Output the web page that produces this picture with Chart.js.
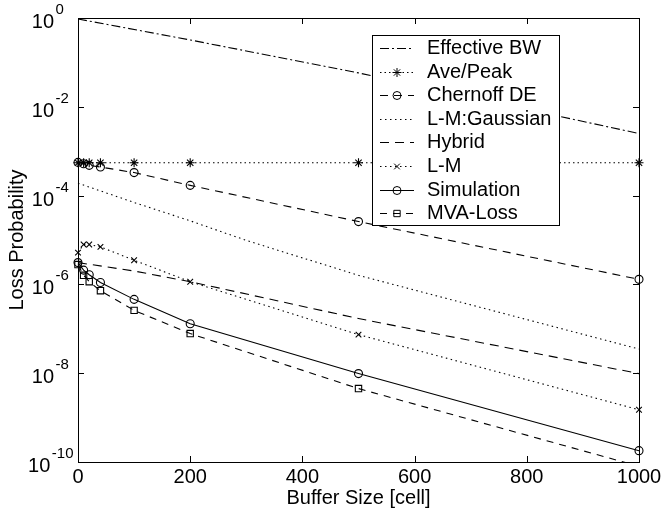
<!DOCTYPE html>
<html>
<head>
<meta charset="utf-8">
<script src="https://cdn.jsdelivr.net/npm/chart.js@4.4.0/dist/chart.umd.min.js"></script>
<style>
  body { margin: 0; background: #fff; }
  #wrap { width: 661px; height: 508px; }
</style>
</head>
<body>
<div id="wrap"><canvas id="lossChart" width="661" height="508"></canvas></div>
<script>
// ---- data ----
const bufferSizes = [0, 10, 20, 40, 100, 200, 500, 1000];
const effBwSizes = [0, 200, 500, 1000];
const effectiveBW = [0.95, 0.32, 0.058, 2.5e-3];
const avePeak = [5.5e-4, 5.5e-4, 5.5e-4, 5.5e-4, 5.5e-4, 5.5e-4, 5.5e-4, 5.5e-4];
const chernoffDE = [5.6e-4, 5.2e-4, 4.8e-4, 4.4e-4, 3.3e-4, 1.7e-4, 2.6e-5, 1.3e-6];
const gaussSizes = [0, 100, 200, 300, 500, 1000];
const lmGaussian = [1.9e-4, 7e-5, 2.7e-5, 9.8e-6, 1.6e-6, 3.5e-8];
const hybridSizes = [0, 100, 200, 500, 1000];
const hybrid = [3.1e-6, 2.0e-6, 1.15e-6, 1.7e-7, 9.8e-9];
const lm = [5.2e-6, 7.9e-6, 7.9e-6, 7e-6, 3.5e-6, 1.15e-6, 7.4e-8, 1.5e-9];
const simulation = [3.1e-6, 2.1e-6, 1.65e-6, 1.1e-6, 4.6e-7, 1.3e-7, 9.8e-9, 1.8e-10];
const mvaLoss = [2.8e-6, 1.6e-6, 1.15e-6, 7.2e-7, 2.6e-7, 7.8e-8, 4.5e-9, 8e-11];

const xTicks = [0, 200, 400, 600, 800, 1000];
const yExponents = [0, -2, -4, -6, -8, -10];

Chart.defaults.font.family = "'Liberation Sans', Arial, sans-serif";
Chart.defaults.color = '#000';

function pts(xs, ys) {
  return xs.map((x, i) => ({ x: x, y: ys[i] }));
}

// line style for each curve (all black)
function curve(label, data, dash, style, radius) {
  return {
    label: label,
    data: data,
    borderColor: '#000',
    borderWidth: 1.1,
    borderDash: dash,
    backgroundColor: 'rgba(0,0,0,0)',
    pointStyle: style || 'circle',
    pointRadius: style ? radius : 0,
    pointBorderColor: '#000',
    pointBorderWidth: 1.1,
    pointBackgroundColor: 'rgba(0,0,0,0)',
    tension: 0,
    clip: { left: 6, right: 6, top: 0, bottom: 0 }
  };
}

const datasets = [
  curve('Effective BW', pts(effBwSizes, effectiveBW), [9, 3, 2, 3], null, 0),
  curve('Ave/Peak', pts(bufferSizes, avePeak), [1.5, 3], 'star', 4.5),
  curve('Chernoff DE', pts(bufferSizes, chernoffDE), [8, 6], 'circle', 4),
  curve('L-M:Gaussian', pts(gaussSizes, lmGaussian), [1.5, 3.5], null, 0),
  curve('Hybrid', pts(hybridSizes, hybrid), [9, 6], null, 0),
  curve('L-M', pts(bufferSizes, lm), [1.5, 3.5], 'crossRot', 4),
  curve('Simulation', pts(bufferSizes, simulation), [], 'circle', 4),
  curve('MVA-Loss', pts(bufferSizes, mvaLoss), [7, 6], 'rect', 4.5)
];

function drawMarker(ctx, ds, x, y) {
  if (!ds.pointRadius) return;
  if (Chart.helpers && Chart.helpers.drawPoint) {
    Chart.helpers.drawPoint(ctx, { pointStyle: ds.pointStyle, radius: ds.pointRadius, rotation: 0, borderWidth: 1 }, x, y);
    return;
  }
  ctx.beginPath();
  ctx.arc(x, y, ds.pointRadius, 0, Math.PI * 2);
  ctx.stroke();
}

// frame, inward ticks and 10^n labels
const framePlugin = {
  id: 'frame',
  afterDraw(chart) {
    const { ctx, chartArea: a, scales: { x, y } } = chart;
    ctx.save();
    ctx.strokeStyle = '#000';
    ctx.lineWidth = 1;
    ctx.setLineDash([]);
    ctx.strokeRect(Math.round(a.left) + 0.5, Math.round(a.top) + 0.5, Math.round(a.right - a.left), Math.round(a.bottom - a.top));
    ctx.beginPath();
    xTicks.forEach(v => {
      const px = Math.round(x.getPixelForValue(v)) + 0.5;
      ctx.moveTo(px, a.bottom); ctx.lineTo(px, a.bottom - 6);
      ctx.moveTo(px, a.top); ctx.lineTo(px, a.top + 6);
    });
    yExponents.forEach(e => {
      const py = Math.round(y.getPixelForValue(Math.pow(10, e))) + 0.5;
      ctx.moveTo(a.left, py); ctx.lineTo(a.left + 6, py);
      ctx.moveTo(a.right, py); ctx.lineTo(a.right - 6, py);
    });
    ctx.stroke();

    ctx.fillStyle = '#000';
    ctx.textBaseline = 'alphabetic';
    yExponents.forEach(e => {
      const py = y.getPixelForValue(Math.pow(10, e));
      const exp = String(e);
      ctx.font = "15px 'Liberation Sans', Arial, sans-serif";
      const expW = ctx.measureText(exp).width;
      const baseRight = Math.min(a.left - 24, a.left - 6 - expW);
      ctx.textAlign = 'left';
      ctx.fillText(exp, baseRight + 1.5, py - 4);
      ctx.font = "20px 'Liberation Sans', Arial, sans-serif";
      ctx.textAlign = 'right';
      ctx.fillText('10', baseRight, py + 10);
    });
    ctx.restore();
  }
};

// boxed legend in the upper right of the plot
const legendPlugin = {
  id: 'boxLegend',
  afterDraw(chart) {
    const { ctx, chartArea: a } = chart;
    const boxL = a.right - 267, boxT = a.top + 17, boxW = 187, boxH = 190;
    const rowH = 23.6;
    ctx.save();
    ctx.fillStyle = '#fff';
    ctx.fillRect(boxL, boxT, boxW, boxH);
    ctx.strokeStyle = '#000';
    ctx.lineWidth = 1;
    ctx.setLineDash([]);
    ctx.strokeRect(Math.round(boxL) + 0.5, Math.round(boxT) + 0.5, boxW, boxH);
    ctx.font = "20px 'Liberation Sans', Arial, sans-serif";
    ctx.textBaseline = 'middle';
    ctx.textAlign = 'left';
    chart.data.datasets.forEach((ds, i) => {
      const ry = Math.round(boxT + 13 + i * rowH) + 0.5;
      ctx.setLineDash(ds.borderDash);
      ctx.beginPath();
      ctx.moveTo(boxL + 8, ry);
      ctx.lineTo(boxL + 42, ry);
      ctx.stroke();
      ctx.setLineDash([]);
      ctx.fillStyle = 'rgba(0,0,0,0)';
      drawMarker(ctx, ds, boxL + 25, ry);
      ctx.fillStyle = '#000';
      ctx.fillText(ds.label, boxL + 55, ry);
    });
    ctx.restore();
  }
};

const config = {
  type: 'line',
  data: { datasets: datasets },
  options: {
    responsive: false,
    animation: false,
    layout: { padding: { top: 18, right: 22, left: 0, bottom: 0 } },
    plugins: { legend: { display: false }, tooltip: { enabled: false } },
    scales: {
      x: {
        type: 'linear',
        min: 0,
        max: 1000,
        grid: { display: false, drawTicks: false },
        border: { display: false },
        ticks: { font: { size: 20 }, padding: 3, maxRotation: 0, callback: v => String(v) },
        afterBuildTicks: scale => { scale.ticks = xTicks.map(v => ({ value: v })); },
        afterFit: scale => { scale.height = 46; scale.paddingLeft = 0; scale.paddingRight = 0; },
        title: { display: true, text: 'Buffer Size [cell]', font: { size: 20, lineHeight: 1 }, padding: { top: 0, bottom: 0 } }
      },
      y: {
        type: 'logarithmic',
        min: 1e-10,
        max: 1,
        grid: { display: false, drawTicks: false },
        border: { display: false },
        ticks: { display: false },
        afterBuildTicks: scale => { scale.ticks = yExponents.map(e => ({ value: Math.pow(10, e) })); },
        afterFit: scale => { scale.width = 78; scale.paddingTop = 0; scale.paddingBottom = 0; },
        title: { display: true, text: 'Loss Probability', font: { size: 20 }, padding: { top: 5, bottom: 0 } }
      }
    }
  },
  plugins: [framePlugin, legendPlugin]
};

const lossChart = new Chart(document.getElementById('lossChart'), config);
</script>
</body>
</html>
